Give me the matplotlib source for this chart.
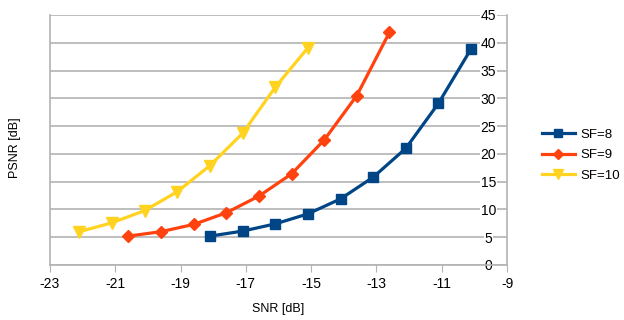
import matplotlib
matplotlib.use("Agg")
import matplotlib.pyplot as plt

plt.rcParams['font.family'] = ['Liberation Sans', 'DejaVu Sans']

snr_sf8 = [-18.1, -17.1, -16.1, -15.1, -14.1, -13.1, -12.1, -11.1, -10.1]
psnr_sf8 = [5.2, 6.1, 7.4, 9.2, 11.9, 15.8, 21.0, 29.1, 38.9]

snr_sf9 = [-20.6, -19.6, -18.6, -17.6, -16.6, -15.6, -14.6, -13.6, -12.6]
psnr_sf9 = [5.2, 6.0, 7.3, 9.4, 12.4, 16.4, 22.5, 30.5, 41.9]

snr_sf10 = [-22.1, -21.1, -20.1, -19.1, -18.1, -17.1, -16.1, -15.1]
psnr_sf10 = [6.0, 7.6, 9.8, 13.2, 17.9, 23.7, 32.0, 39.1]

series_labels = ['SF=8', 'SF=9', 'SF=10']
x_ticks = [-23, -21, -19, -17, -15, -13, -11, -9]
y_ticks = [0, 5, 10, 15, 20, 25, 30, 35, 40, 45]

W, H = 624, 320
fig = plt.figure(figsize=(W / 100, H / 100), dpi=100)
ax = fig.add_axes([50 / W, (H - 265) / H, (507 - 50) / W, (265 - 15) / H])

grid_c = '#b3b3b3'
blue, orange, yellow = '#004586', '#ff420e', '#ffd320'

ax.plot(snr_sf8, psnr_sf8, color=blue, lw=2.3, marker='s', ms=7.5, label=series_labels[0], zorder=3)
ax.plot(snr_sf9, psnr_sf9, color=orange, lw=2.3, marker='D', ms=6, label=series_labels[1], zorder=3)
ax.plot(snr_sf10, psnr_sf10, color=yellow, lw=2.3, marker='v', ms=8, label=series_labels[2], zorder=3)

ax.set_xlim(-23, -9)
ax.set_ylim(0, 45)
ax.set_xticks(x_ticks)
ax.set_xticklabels([f'{t}' for t in x_ticks])
ax.set_yticks(y_ticks)
ax.set_yticklabels([str(t) for t in y_ticks])

ax.yaxis.tick_right()
ax.tick_params(axis='y', direction='in', length=0, pad=-13.5, colors=grid_c, labelcolor='black', labelsize=10)
plt.setp(ax.get_yticklabels(), ha='center',
         bbox=dict(facecolor='white', edgecolor='none', pad=0.6))
ax.tick_params(axis='x', direction='out', length=5, pad=4, colors=grid_c, labelcolor='black', labelsize=10)

for s in ax.spines.values():
    s.set_color(grid_c)
    s.set_linewidth(1.2)
ax.spines['top'].set_visible(False)
ax.grid(axis='y', color=grid_c, lw=1.2)
ax.set_axisbelow(True)

ax.set_xlabel('SNR [dB]', fontsize=9, labelpad=8)
fig.text(15 / W, 1 - 148 / H, 'PSNR [dB]', rotation=90, ha='center', va='center', fontsize=9)

ax.legend(loc='center left', bbox_to_anchor=(535 / W, 1 - 155 / H), bbox_transform=fig.transFigure,
          frameon=False, fontsize=9.5, handlelength=2.5, handletextpad=0.45, labelspacing=0.62,
          borderpad=0, markerscale=0.85)

fig.savefig('out.png', dpi=100)
